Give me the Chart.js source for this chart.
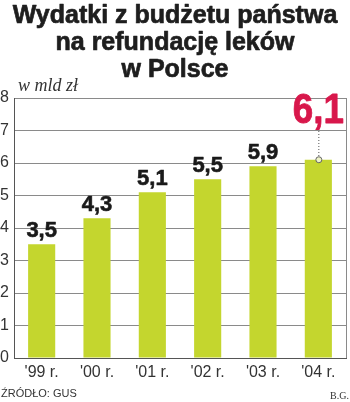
<!DOCTYPE html>
<html>
<head>
<meta charset="utf-8">
<script src="https://cdn.jsdelivr.net/npm/chart.js@4/dist/chart.umd.min.js"></script>
<style>
html,body{margin:0;padding:0;background:#fff;}
#wrap{position:relative;width:350px;height:402px;}
</style>
</head>
<body>
<div id="wrap"><canvas id="c" width="350" height="402"></canvas></div>
<script>
const titleLines = ["Wydatki z budżetu państwa", "na refundację leków", "w Polsce"];
const unitLabel = "w mld zł";
const categories = ["'99 r.", "'00 r.", "'01 r.", "'02 r.", "'03 r.", "'04 r."];
const values = [3.5, 4.3, 5.1, 5.5, 5.9, 6.1];
const valueLabels = ["3,5", "4,3", "5,1", "5,5", "5,9", "6,1"];
const yTicks = [0, 1, 2, 3, 4, 5, 6, 7, 8];
const sourceText = "ŹRÓDŁO: GUS";
const authorText = "B.G.";

const BAR = "#c4d62e";
const DARK = "#1e1e1e";
const RED = "#d8174b";

const decor = {
  id: 'decor',
  afterDatasetsDraw(chart) {
    const ctx = chart.ctx;
    const ca = chart.chartArea;
    ctx.save();
    // right border
    ctx.strokeStyle = "#8a8a8a";
    ctx.lineWidth = 1;
    ctx.beginPath();
    ctx.moveTo(ca.right + 0.5, ca.top);
    ctx.lineTo(ca.right + 0.5, ca.bottom);
    ctx.stroke();

    // title
    ctx.fillStyle = DARK;
    ctx.strokeStyle = DARK;
    ctx.lineWidth = 0.7;
    ctx.lineJoin = "round";
    ctx.font = "bold 25px 'Liberation Sans', Arial, sans-serif";
    ctx.textAlign = "center";
    ctx.textBaseline = "alphabetic";
    const w1 = ctx.measureText(titleLines[0]).width;
    const sx = Math.min(1, 335 / w1);
    const baselines = [23, 50, 77];
    titleLines.forEach((t, i) => {
      ctx.save();
      ctx.translate(175, baselines[i]);
      ctx.scale(sx, 1);
      ctx.fillText(t, 0, 0);
      ctx.strokeText(t, 0, 0);
      ctx.restore();
    });

    // unit
    ctx.font = "italic 18px 'Liberation Serif', serif";
    ctx.textAlign = "left";
    ctx.fillStyle = "#333";
    ctx.fillText(unitLabel, 18, 91);

    // value labels
    const meta = chart.getDatasetMeta(0);
    meta.data.forEach((bar, i) => {
      const last = i === values.length - 1;
      if (!last) {
        ctx.font = "bold 22px 'Liberation Sans', Arial, sans-serif";
        ctx.fillStyle = "#1a1a1a";
        ctx.strokeStyle = "#1a1a1a";
        ctx.lineWidth = 0.6;
        ctx.textAlign = "center";
        ctx.textBaseline = "alphabetic";
        ctx.fillText(valueLabels[i], bar.x, bar.y - 7);
        ctx.strokeText(valueLabels[i], bar.x, bar.y - 7);
      } else {
        ctx.font = "bold 40px 'Liberation Sans', Arial, sans-serif";
        ctx.fillStyle = RED;
        ctx.strokeStyle = RED;
        ctx.lineWidth = 0.8;
        ctx.textAlign = "center";
        ctx.textBaseline = "alphabetic";
        ctx.save();
        ctx.translate(bar.x, ca.top + 25);
        ctx.scale(0.92, 1.05);
        ctx.fillText(valueLabels[i], 0, 0);
        ctx.strokeText(valueLabels[i], 0, 0);
        ctx.restore();
        // dotted leader
        ctx.strokeStyle = "#555";
        ctx.lineWidth = 1;
        ctx.setLineDash([1, 2]);
        ctx.beginPath();
        ctx.moveTo(bar.x + 0.5, ca.top + 33);
        ctx.lineTo(bar.x + 0.5, bar.y - 3);
        ctx.stroke();
        ctx.setLineDash([]);
        ctx.beginPath();
        ctx.arc(bar.x + 0.5, bar.y, 3, 0, Math.PI * 2);
        ctx.fillStyle = "#eef3c8";
        ctx.fill();
        ctx.strokeStyle = "#666";
        ctx.stroke();
      }
    });

    // footer
    ctx.font = "11px 'Liberation Sans', Arial, sans-serif";
    ctx.fillStyle = "#333";
    ctx.textAlign = "left";
    ctx.textBaseline = "alphabetic";
    ctx.fillText(sourceText, 1, 397);
    ctx.font = "10px 'Liberation Serif', serif";
    ctx.textAlign = "right";
    ctx.fillText(authorText, 349, 399);
    ctx.restore();
  }
};

new Chart(document.getElementById('c'), {
  type: 'bar',
  data: {
    labels: categories,
    datasets: [{
      data: values,
      backgroundColor: BAR,
      borderWidth: 0,
      categoryPercentage: 1,
      barPercentage: 0.49
    }]
  },
  options: {
    responsive: false,
    animation: false,
    devicePixelRatio: 1,
    layout: { padding: { top: 98, right: 4, bottom: 14, left: 0 } },
    plugins: { legend: { display: false }, title: { display: false }, tooltip: { enabled: false } },
    scales: {
      x: {
        grid: { display: false, drawTicks: false },
        border: { display: true, color: "#555", width: 1 },
        ticks: { color: "#333", font: { family: "'Liberation Sans', Arial, sans-serif", size: 16 }, padding: 5, maxRotation: 0 },
        afterFit(s) { s.height = 30; }
      },
      y: {
        min: 0, max: 8,
        afterBuildTicks(s) { s.ticks = yTicks.map(v => ({ value: v })); },
        grid: { color: "#8a8a8a", lineWidth: 1, drawTicks: false },
        border: { display: true, color: "#555", width: 1 },
        ticks: { color: "#333", font: { family: "'Liberation Sans', Arial, sans-serif", size: 16 }, padding: 5 },
        afterFit(s) { s.width = 14; }
      }
    }
  },
  plugins: [decor]
});
</script>
</body>
</html>
